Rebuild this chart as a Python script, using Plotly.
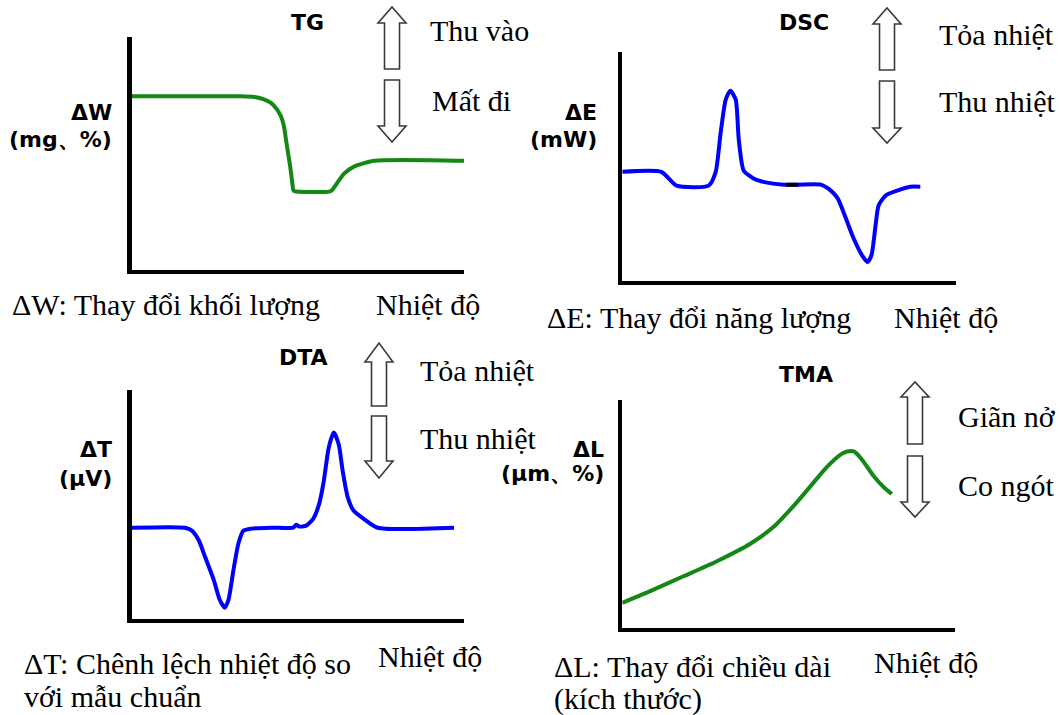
import plotly.graph_objects as go

W, H = 1060, 715

# ---------------- data (temperature axis 0-100, signal axis 0-100) ----------------
tg_temp = [0, 32.8, 37.0, 39.8, 42.0, 43.7, 45.0, 45.8, 46.7, 47.4, 47.9, 48.3, 48.7, 49.6,
           59.5, 60.4, 61.7, 63.9, 66.9, 72.9, 100]
tg_mass = [74.5, 74.5, 74.2, 73.2, 71.6, 68.9, 65.6, 61.7, 53.2, 47.0, 42.1, 37.5, 34.0, 33.6,
           33.6, 34.4, 37.0, 41.3, 44.3, 46.8, 46.8]

dsc_temp = [0, 11.7, 16.3, 25.9, 28.0, 29.5, 31.0, 32.4, 34.0, 34.9, 36.4, 39.5, 43.4, 48.5,
            52.7, 59.5, 62.5, 64.6, 67.0, 69.3, 72.0, 73.5, 74.7, 75.9, 76.8, 78.9, 82.4, 86.3, 89.3]
dsc_energy = [47.6, 47.6, 41.6, 41.6, 47.6, 64.9, 79.2, 83.1, 79.2, 61.9, 48.1, 44.6, 42.9, 42.0,
              42.0, 42.0, 39.4, 35.9, 27.3, 18.6, 10.8, 8.2, 11.3, 24.2, 32.9, 37.2, 39.4, 41.1, 41.1]
dsc_mark_temp = [49.1, 52.7]
dsc_mark_energy = [42.0, 42.0]

dta_temp = [0, 16.0, 18.1, 20.2, 22.0, 24.7, 26.5, 28.0, 29.1, 30.6, 32.1, 33.6, 36.0, 42.0,
            48.6, 49.5, 50.4, 52.5, 54.6, 56.4, 57.8, 59.3, 60.8, 62.3, 63.5, 65.0, 66.8, 69.8,
            74.0, 97.0]
dta_signal = [39.8, 39.8, 38.5, 34.2, 27.3, 16.9, 8.2, 4.8, 8.2, 21.2, 32.9, 38.5, 39.4, 39.8,
              39.8, 41.1, 40.3, 40.7, 43.7, 50.2, 60.2, 74.9, 81.4, 76.2, 64.5, 53.2, 47.2, 43.7,
              39.8, 39.8]

tma_temp = [0, 8.4, 18.4, 28.3, 38.6, 45.5, 51.5, 56.6, 61.4, 65.7, 67.5, 69.6, 72.0, 75.6, 78.6, 81.0]
tma_length = [10.9, 16.1, 22.6, 29.1, 37.0, 44.3, 53.5, 62.2, 70.4, 76.1, 77.4, 77.4, 73.9, 66.5, 61.7, 58.7]

titles = ["TG", "DSC", "DTA", "TMA"]
ylabels = [["ΔW", "(mg、%)"], ["ΔE", "(mW)"], ["ΔT", "(μV)"], ["ΔL", "(µm、%)"]]
up_labels = ["Thu vào", "Tỏa nhiệt", "Tỏa nhiệt", "Giãn nở"]
down_labels = ["Mất đi", "Thu nhiệt", "Thu nhiệt", "Co ngót"]
desc_labels = [["ΔW: Thay đổi khối lượng"], ["ΔE: Thay đổi năng lượng"],
               ["ΔT: Chênh lệch nhiệt độ so", "với mẫu chuẩn"],
               ["ΔL: Thay đổi chiều dài", "(kích thước)"]]
xlabel = "Nhiệt độ"

GREEN = "rgb(20,135,20)"
BLUE = "rgb(0,0,255)"
LW_AX = 4.5
HALF = LW_AX / 2

# panel layout in pixels: (x_axis_line, x_end, y_top, y_axis_line)
panels = [
    (129.5, 464, 37, 272),
    (620, 956, 52, 283),
    (129.5, 464, 390, 621),
    (620, 955, 400, 630),
]

fig = go.Figure()

series = [
    (tg_temp, tg_mass, GREEN),
    (dsc_temp, dsc_energy, BLUE),
    (dta_temp, dta_signal, BLUE),
    (tma_temp, tma_length, GREEN),
]

for i, (xs, ys, col) in enumerate(series):
    n = "" if i == 0 else str(i + 1)
    fig.add_trace(go.Scatter(x=xs, y=ys, mode="lines",
                             line=dict(color=col, width=4, shape="spline", smoothing=0.6),
                             xaxis="x" + n, yaxis="y" + n, showlegend=False,
                             hoverinfo="skip", cliponaxis=False))
fig.add_trace(go.Scatter(x=dsc_mark_temp, y=dsc_mark_energy, mode="lines",
                         line=dict(color="black", width=4), xaxis="x2", yaxis="y2",
                         showlegend=False, hoverinfo="skip"))

layout = dict(width=W, height=H, margin=dict(l=0, r=0, t=0, b=0),
              paper_bgcolor="white", plot_bgcolor="white", showlegend=False)

for i, (xl, xe, yt, yl) in enumerate(panels):
    n = "" if i == 0 else str(i + 1)
    ax = dict(showline=True, linecolor="black", linewidth=LW_AX, showticklabels=False,
              ticks="", showgrid=False, zeroline=False, range=[0, 100], fixedrange=True)
    layout["xaxis" + n] = dict(ax, domain=[(xl + HALF) / W, xe / W], anchor="y" + n)
    layout["yaxis" + n] = dict(ax, domain=[1 - (yl - HALF) / H, 1 - yt / H], anchor="x" + n)

SERIF = "Liberation Serif"
SANS = "DejaVu Sans"
SER_SIZE = 30
BOLD_SIZE = 22

ann = []


def txt(x, y, s, anchor="left", font=SERIF, size=SER_SIZE, bold=False):
    ann.append(dict(x=x / W, y=1 - y / H, xref="paper", yref="paper", text=("<b>%s</b>" % s) if bold else s,
                    showarrow=False, xanchor=anchor, yanchor="middle",
                    font=dict(family=font, size=size, color="black")))


# text positions (pixels)
title_pos = [(307, 22), (804, 22), (303, 357), (806, 374)]
ylab_pos = [(114, 112, 139), (599, 112, 139), (114, 449, 478), (606, 449, 474)]
up_pos = [(428, 30), (937, 34), (418, 370), (956, 416)]
down_pos = [(430, 100), (937, 101), (418, 439), (956, 485)]
desc_pos = [(10, [304]), (545, [317]), (22, [663, 696]), (552, [666, 699])]
xlab_pos = [(374, 304), (892, 317), (376, 656), (872, 662)]

for i in range(4):
    txt(*title_pos[i], titles[i], anchor="center", font=SANS, size=BOLD_SIZE, bold=True)
    xr, y1, y2 = ylab_pos[i]
    txt(xr, y1, ylabels[i][0], anchor="right", font=SANS, size=BOLD_SIZE, bold=True)
    txt(xr, y2, ylabels[i][1], anchor="right", font=SANS, size=BOLD_SIZE, bold=True)
    txt(*up_pos[i], up_labels[i])
    txt(*down_pos[i], down_labels[i])
    dx, dys = desc_pos[i]
    for line, dy in zip(desc_labels[i], dys):
        txt(dx, dy, line)
    txt(*xlab_pos[i], xlabel)

layout["annotations"] = ann

# hollow block arrows (pixel geometry)
arrows = [
    # cx, up(tip, base, tail), down(tail, base, tip)
    (392, (7, 23, 69), (80, 126, 142)),
    (887, (8, 24, 70), (81, 128, 143)),
    (379, (343, 362, 406), (416, 461, 478)),
    (915, (382, 397, 444), (456, 502, 517)),
]
HW_HEAD, HW_SHAFT = 14, 7.5


def arrow_path(cx, tip, base, tail):
    pts = [(cx - HW_SHAFT, tail), (cx - HW_SHAFT, base), (cx - HW_HEAD, base), (cx, tip),
           (cx + HW_HEAD, base), (cx + HW_SHAFT, base), (cx + HW_SHAFT, tail)]
    return "M " + " L ".join("%.5f,%.5f" % (x / W, 1 - y / H) for x, y in pts) + " Z"


shapes = []
for cx, up, dn in arrows:
    shapes.append(dict(type="path", xref="paper", yref="paper", path=arrow_path(cx, up[0], up[1], up[2]),
                       fillcolor="white", line=dict(color="#3a3a3a", width=1.6)))
    shapes.append(dict(type="path", xref="paper", yref="paper", path=arrow_path(cx, dn[2], dn[1], dn[0]),
                       fillcolor="white", line=dict(color="#3a3a3a", width=1.6)))
layout["shapes"] = shapes

fig.update_layout(**layout)
fig.write_html("out.html", config={"displayModeBar": False, "staticPlot": True},
               post_script="document.body.style.margin='0px';document.body.style.overflow='hidden';")
